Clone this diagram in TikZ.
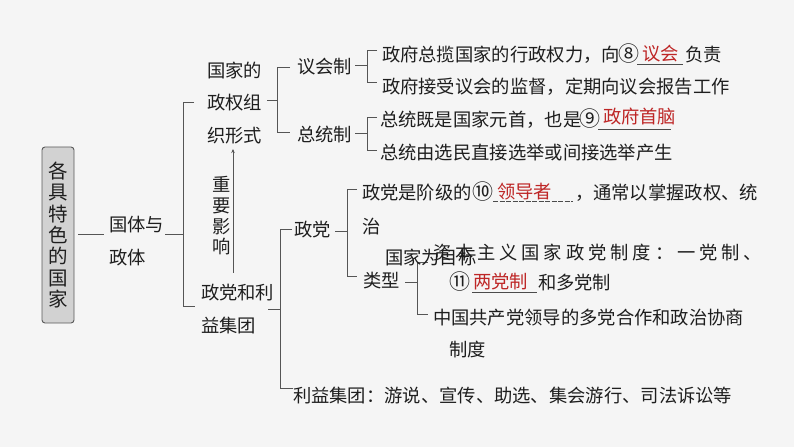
\documentclass[tikz,border=0pt]{standalone}
\usepackage{fontspec}
\setmainfont{Noto Sans CJK SC}
\usetikzlibrary{arrows.meta}
\definecolor{bg}{RGB}{245,245,245}
\definecolor{ink}{RGB}{30,30,30}
\definecolor{lnc}{RGB}{85,85,85}
\definecolor{ans}{RGB}{190,38,38}
\definecolor{boxfill}{RGB}{210,210,210}
\definecolor{boxline}{RGB}{90,90,90}
\newcommand\lsk{\kern3.9bp}
\newcommand\cnum[1]{\makebox[18.3bp][c]{\fontsize{21bp}{21bp}\selectfont #1}}
\begin{document}
\begin{tikzpicture}[x=1bp,y=-1bp,
  txt/.style={anchor=base west,inner sep=0pt,outer sep=0pt,text=ink,font=\fontsize{18.3bp}{22bp}\selectfont},
  answer/.style={txt,text=ans},
  ln/.style={draw=lnc,line width=1bp},
  uline/.style={draw=ink!80,line width=0.9bp},
  vtext/.style={inner sep=0pt,outer sep=0pt,text=ink,align=center,font=\fontsize{18.3bp}{20.7bp}\selectfont},
  rootbox/.style={draw=boxline,fill=boxfill,rounded corners=3bp,line width=0.9bp,minimum width=32bp,minimum height=176bp,inner sep=0pt,align=center,text=ink,font=\fontsize{19.5bp}{21.3bp}\selectfont}
]
\fill[bg] (0,0) rectangle (794,447);
\useasboundingbox (0,0) rectangle (794,447);

% bracket coordinates
\coordinate (b1a) at (165,235); \coordinate (b1b) at (183,235);
\coordinate (b1t) at (194,103); \coordinate (b1tt) at (183,103);
\coordinate (b1u) at (183,307); \coordinate (b1ue) at (195,307);

\coordinate (b2a) at (267,101); \coordinate (b2b) at (277,101);
\coordinate (b2t) at (290,68); \coordinate (b2tt) at (277,68);
\coordinate (b2u) at (277,133); \coordinate (b2ue) at (290,133);

\coordinate (b3a) at (355,66); \coordinate (b3b) at (367,66);
\coordinate (b3t) at (377,51); \coordinate (b3tt) at (367,51);
\coordinate (b3u) at (367,83); \coordinate (b3ue) at (377,83);

\coordinate (b4a) at (355,134); \coordinate (b4b) at (367,134);
\coordinate (b4t) at (377,118); \coordinate (b4tt) at (367,118);
\coordinate (b4u) at (367,151); \coordinate (b4ue) at (377,151);

\coordinate (b5a) at (268,310); \coordinate (b5b) at (280,310);
\coordinate (b5t) at (292,230); \coordinate (b5tt) at (280,230);
\coordinate (b5u) at (280,388); \coordinate (b5ue) at (293,388);

\coordinate (b6a) at (335,232); \coordinate (b6b) at (347,232);
\coordinate (b6t) at (357,190); \coordinate (b6tt) at (347,190);
\coordinate (b6u) at (347,277); \coordinate (b6ue) at (357,277);

\coordinate (b7a) at (405,283); \coordinate (b7b) at (417,283);
\coordinate (b7t) at (428,263); \coordinate (b7tt) at (417,263);
\coordinate (b7u) at (417,315); \coordinate (b7ue) at (428,315);

\coordinate (arrS) at (233,273); \coordinate (arrE) at (233,149);

\draw[ln] (b1a) -- (b1b); \draw[ln] (b1t) -- (b1tt) -- (b1u) -- (b1ue);
\draw[ln] (b2a) -- (b2b); \draw[ln] (b2t) -- (b2tt) -- (b2u) -- (b2ue);
\draw[ln] (b3a) -- (b3b); \draw[ln] (b3t) -- (b3tt) -- (b3u) -- (b3ue);
\draw[ln] (b4a) -- (b4b); \draw[ln] (b4t) -- (b4tt) -- (b4u) -- (b4ue);
\draw[ln] (b5a) -- (b5b); \draw[ln] (b5t) -- (b5tt) -- (b5u) -- (b5ue);
\draw[ln] (b6a) -- (b6b); \draw[ln] (b6t) -- (b6tt) -- (b6u) -- (b6ue);
\draw[ln] (b7a) -- (b7b); \draw[ln] (b7t) -- (b7tt) -- (b7u) -- (b7ue);
\draw[ln,-{Stealth[length=4bp,width=3.5bp]}] (arrS) -- (arrE);

% root
\node[rootbox] (root) at (58,235) {各\\具\\特\\色\\的\\国\\家};
\node[txt] (gt1) at (109,232) {国体与};
\node[txt] (gt2) at (109,265) {政体};
\draw[ln] ([xshift=4bp]root.east) -- ([xshift=-5bp]gt1.west |- root.east);

% 政权组织形式
\node[txt] (gj1) at (207,78) {国家的};
\node[txt] (gj2) at (207,110) {政权组};
\node[txt] (gj3) at (207,143) {织形式};
\node[txt] (yh) at (297,74) {议会制};
\node[txt] (zt) at (297,142) {总统制};
\node[txt] (y1) at (382,62) {政府总揽国家的行政权力，向\cnum{⑧}};
\node[answer] (a8) at (642,61) {议会};
\coordinate (u8a) at (637,64); \coordinate (u8b) at (683,64);
\draw[uline] (u8a) -- (u8b);
\node[txt] (y1b) at (685,62) {负责};
\node[txt] (y2) at (382,94) {政府接受议会的监督，定期向议会报告工作};
\node[txt] (z1) at (380,127) {总统既是国家元首，也是\cnum{⑨}};
\node[answer] (a9) at (603,124) {政府首脑};
\coordinate (u9a) at (598,129); \coordinate (u9b) at (671,129);
\draw[uline] (u9a) -- (u9b);
\node[txt] (z2) at (380,160) {总统由选民直接选举或间接选举产生};

% 重要影响
\node[vtext] (zyyx) at (222,216) {重\\要\\影\\响};

% 政党和利益集团
\node[txt] (zd1) at (201,300) {政党和利};
\node[txt] (zd2) at (201,333) {益集团};
\node[txt] (zd) at (294,237) {政党};
\node[txt] (p1) at (362,200) {政党是阶级的\kern2bp\cnum{⑩}};
\node[answer] (a10) at (497,199) {领导者};
\coordinate (u10a) at (493,201); \coordinate (u10b) at (573,201);
\draw[uline,dash pattern=on 5bp off 1.5bp] (u10a) -- (u10b);
\node[txt] (p1b) at (575,200) {，通常以掌握政权、统};
\node[txt] (p2) at (362,234) {治};
\node[txt] (lx) at (363,288) {类型};
\node[txt] (zb) at (433,260) {资\lsk 本\lsk 主\lsk 义\lsk 国\lsk 家\lsk 政\lsk 党\lsk 制\lsk 度\lsk ：\lsk 一\lsk 党\lsk 制\lsk 、};
\node[txt] (gjwm) at (385,265) {国家为目标};
\node[txt] (c11) at (451,290) {\cnum{⑪}};
\node[answer] (a11) at (473,289) {两党制};
\coordinate (u11a) at (472,292); \coordinate (u11b) at (537,292);
\draw[uline] (u11a) -- (u11b);
\node[txt] (hdd) at (538,290) {和多党制};
\node[txt] (zg1) at (433,325) {中国共产党领导的多党合作和政治协商};
\node[txt] (zg2) at (449,357) {制度};
\node[txt] (lyjt) at (293,402) {利益集团：游说、宣传、助选、集会游行、司法诉讼等};
\end{tikzpicture}
\end{document}
